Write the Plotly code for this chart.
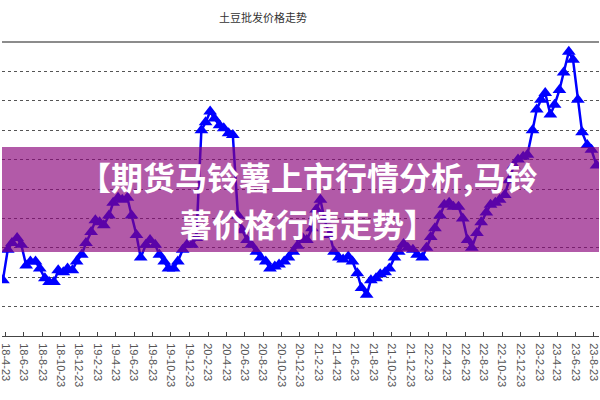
import plotly.graph_objects as go
import pandas as pd

chart_title = "土豆批发价格走势"
overlay_line1 = "【期货马铃薯上市行情分析,马铃"
overlay_line2 = "薯价格行情走势】"

# semi-monthly observation dates (1st and 15th)
dates = pd.date_range("2018-04-15", "2023-09-01", freq="SMS")

prices = [
    1.57, 1.88, 1.95, 2.00, 1.93, 1.72, 1.76, 1.76, 1.69, 1.59,
    1.55, 1.55, 1.67, 1.65, 1.69, 1.67, 1.76, 1.83, 1.95, 2.06,
    2.18, 2.16, 2.13, 2.23, 2.36, 2.41, 2.39, 2.41, 2.23, 2.03,
    1.80, 1.93, 1.98, 1.93, 1.83, 1.76, 1.69, 1.69, 1.76, 1.88,
    1.93, 1.93, 2.00, 3.10, 3.18, 3.29, 3.22, 3.15, 3.12, 3.07,
    3.05, 2.23, 2.08, 1.98, 1.93, 1.86, 1.80, 1.76, 1.69, 1.71,
    1.73, 1.76, 1.80, 1.86, 1.92, 2.00, 1.98, 2.10, 2.29, 2.39,
    2.18, 2.03, 1.86, 1.80, 1.78, 1.81, 1.76, 1.64, 1.49, 1.42,
    1.57, 1.59, 1.63, 1.65, 1.69, 1.80, 1.86, 1.94, 1.90, 1.88,
    1.83, 1.80, 1.90, 2.01, 2.10, 2.23, 2.34, 2.36, 2.32, 2.32,
    2.20, 1.98, 1.90, 2.05, 2.16, 2.26, 2.34, 2.36, 2.39, 2.44,
    2.59, 2.74, 2.80, 2.83, 2.85, 3.10, 3.31, 3.41, 3.48, 3.26,
    3.36, 3.51, 3.69, 3.90, 3.82, 3.41, 3.08, 2.95, 2.90, 2.74,
]

tick_labels = [
    "18-4-23", "18-6-23", "18-8-23", "18-10-23", "18-12-23",
    "19-2-23", "19-4-23", "19-6-23", "19-8-23", "19-10-23", "19-12-23",
    "20-2-23", "20-4-23", "20-6-23", "20-8-23", "20-10-23", "20-12-23",
    "21-2-23", "21-4-23", "21-6-23", "21-8-23", "21-10-23", "21-12-23",
    "22-2-23", "22-4-23", "22-6-23", "22-8-23", "22-10-23", "22-12-23",
    "23-2-23", "23-4-23", "23-6-23", "23-8-23",
]
tick_dates = [pd.Timestamp(2000 + int(a), int(b), int(c))
              for a, b, c in (t.split("-") for t in tick_labels)]

fig = go.Figure()
fig.add_trace(go.Scatter(
    x=dates, y=prices, mode="lines+markers",
    line=dict(color="#0000FF", width=2.5),
    marker=dict(symbol="triangle-up", size=12, color="#0000FF", line=dict(width=0)),
    showlegend=False, hoverinfo="skip",
))

fig.update_layout(
    width=600, height=400,
    margin=dict(l=0, r=0, t=42, b=64),
    paper_bgcolor="white", plot_bgcolor="white",
    xaxis=dict(
        type="date", range=["2018-04-12", "2023-09-09"],
        tickmode="array", tickvals=tick_dates, ticktext=tick_labels,
        tickangle=90, ticks="inside", ticklen=4, tickcolor="#444",
        showline=True, linecolor="#444", linewidth=1,
        showgrid=False, zeroline=False,
        tickfont=dict(family="Liberation Sans, Arial", size=11, color="#555"),
        ticklabelstandoff=4, ticklabeloverflow="allow",
    ),
    yaxis=dict(
        range=[1.0, 4.0], tick0=1.0, dtick=0.3,
        showticklabels=False, ticks="",
        showgrid=True, gridcolor="#555", griddash="dot", gridwidth=1,
        zeroline=False, showline=False,
    ),
    shapes=[
        dict(type="line", xref="paper", yref="paper", x0=0, x1=1, y0=1, y1=1,
             line=dict(color="#8c8c8c", width=2), layer="above"),
        dict(type="rect", xref="paper", yref="paper", x0=0, x1=1,
             y0=0.286, y1=0.643, fillcolor="rgba(138,5,123,0.66)",
             line=dict(width=0), layer="above"),
    ],
    annotations=[
        dict(text=chart_title, xref="paper", yref="paper", x=0.438, y=1.085,
             xanchor="center", yanchor="middle", showarrow=False,
             font=dict(family="Noto Sans CJK SC", size=11, color="#333")),
        dict(text="<b>" + overlay_line1 + "</b>",
             xref="paper", yref="paper",
             x=0.513, y=(336 - 176) / 294, xanchor="center", yanchor="middle",
             showarrow=False,
             font=dict(family="Noto Sans CJK SC", size=32, color="white")),
        dict(text="<b>" + overlay_line2 + "</b>",
             xref="paper", yref="paper",
             x=0.513, y=(336 - 223) / 294, xanchor="center", yanchor="middle",
             showarrow=False,
             font=dict(family="Noto Sans CJK SC", size=32, color="white")),
    ],
)

fig.write_html("out.html")
